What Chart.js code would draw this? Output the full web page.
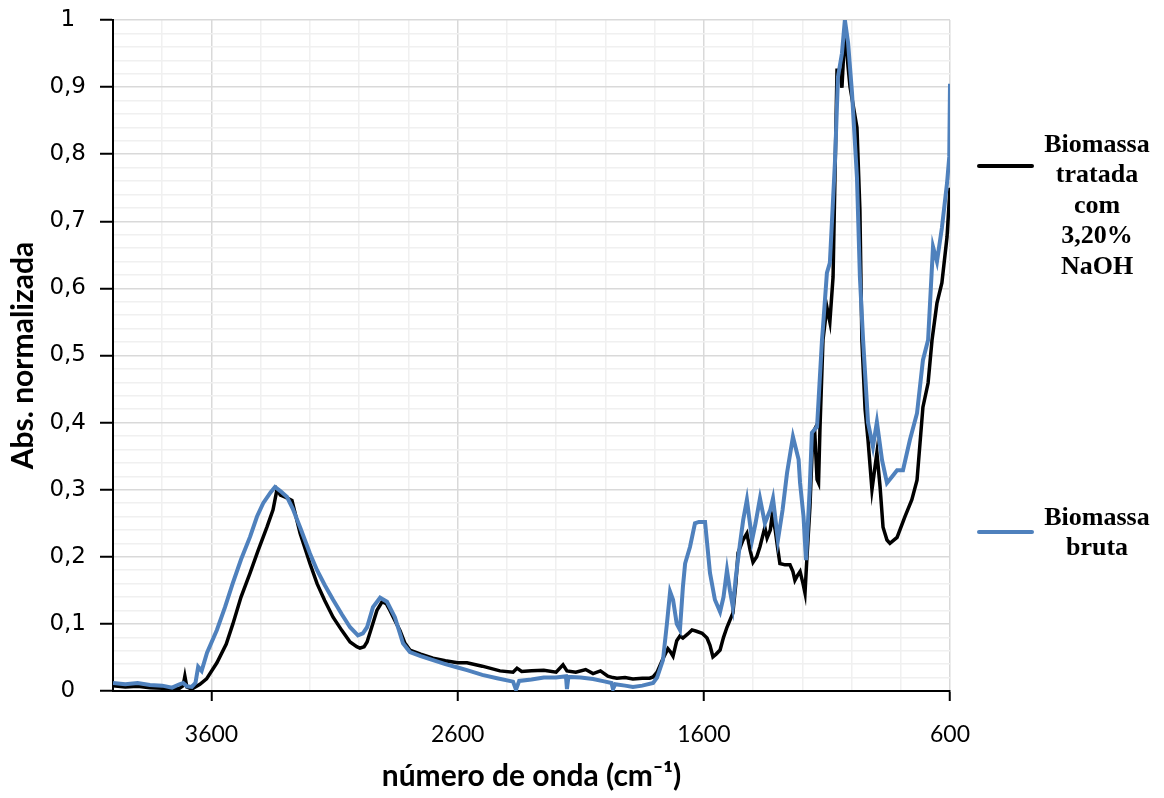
<!DOCTYPE html>
<html>
<head>
<meta charset="utf-8">
<script src="https://cdn.jsdelivr.net/npm/chart.js@4.4.1/dist/chart.umd.min.js"></script>
<style>
  html, body { margin: 0; padding: 0; background: #fff; }
  #wrap { width: 1164px; height: 798px; }
</style>
</head>
<body>
<div id="wrap"><canvas id="espectro"></canvas></div>
<script>
// Espectros FTIR normalizados (número de onda em cm-1, absorbância normalizada)
const tratadaX = [4000, 3950, 3900, 3850, 3800, 3760, 3730, 3715, 3708, 3700, 3680, 3647, 3620, 3578, 3540, 3513,
  3480, 3443, 3410, 3374, 3350, 3334, 3320, 3300, 3273, 3240, 3200, 3171, 3140, 3106, 3070, 3037, 3010, 2997,
  2980, 2968, 2945, 2928, 2907, 2890, 2875, 2855, 2834, 2815, 2794, 2750, 2700, 2650, 2600, 2562, 2500, 2428,
  2375, 2359, 2340, 2300, 2250, 2200, 2172, 2156, 2120, 2080, 2050, 2020, 1990, 1969, 1953, 1920, 1888, 1850,
  1820, 1806, 1790, 1766, 1746, 1735, 1725, 1710, 1697, 1685, 1665, 1648, 1630, 1607, 1587, 1575, 1563, 1550,
  1534, 1520, 1506, 1482, 1470, 1461, 1441, 1425, 1412, 1400, 1385, 1372, 1352, 1343, 1330, 1323, 1310, 1299,
  1291, 1270, 1250, 1238, 1230, 1220, 1209, 1197, 1189, 1181, 1169, 1157, 1150, 1140, 1134, 1128, 1116, 1100,
  1088, 1075, 1059, 1047, 1039, 1027, 1014, 1006, 978, 966, 958, 945, 933, 917, 897, 884, 872, 856, 844, 815,
  783, 755, 734, 710, 689, 673, 653, 633, 612, 600];
const tratadaY = [0.008, 0.006, 0.007, 0.005, 0.004, 0.003, 0.004, 0.008, 0.022, 0.006, 0.003, 0.010, 0.018, 0.042, 0.070, 0.100,
  0.140, 0.176, 0.210, 0.245, 0.270, 0.300, 0.292, 0.289, 0.284, 0.235, 0.190, 0.160, 0.135, 0.110, 0.090, 0.073, 0.066, 0.064,
  0.066, 0.073, 0.100, 0.120, 0.133, 0.130, 0.120, 0.105, 0.090, 0.072, 0.061, 0.055, 0.049, 0.045, 0.042, 0.042, 0.037, 0.030,
  0.028, 0.034, 0.029, 0.030, 0.031, 0.028, 0.039, 0.030, 0.028, 0.032, 0.026, 0.030, 0.022, 0.020, 0.019, 0.020, 0.018, 0.019,
  0.019, 0.021, 0.028, 0.048, 0.063, 0.058, 0.052, 0.075, 0.082, 0.079, 0.085, 0.091, 0.089, 0.086, 0.079, 0.068, 0.051, 0.055,
  0.061, 0.080, 0.095, 0.116, 0.160, 0.206, 0.225, 0.235, 0.210, 0.192, 0.200, 0.215, 0.244, 0.228, 0.240, 0.260, 0.240, 0.210,
  0.190, 0.188, 0.188, 0.178, 0.165, 0.172, 0.178, 0.160, 0.146, 0.200, 0.274, 0.385, 0.390, 0.315, 0.310, 0.394, 0.523, 0.572,
  0.550, 0.617, 0.925, 0.925, 0.899, 0.985, 0.930, 0.900, 0.840, 0.717, 0.523, 0.420, 0.374, 0.300, 0.355, 0.304, 0.244, 0.225, 0.220, 0.229,
  0.260, 0.285, 0.314, 0.423, 0.459, 0.523, 0.578, 0.608, 0.677, 0.750];

const brutaX = [4000, 3950, 3900, 3850, 3800, 3760, 3730, 3715, 3700, 3680, 3665, 3654, 3640, 3618, 3578, 3545, 3513,
  3480, 3443, 3415, 3390, 3360, 3342, 3320, 3293, 3270, 3240, 3200, 3171, 3140, 3106, 3070, 3037, 3005, 2985,
  2968, 2944, 2915, 2887, 2855, 2822, 2794, 2750, 2700, 2650, 2600, 2562, 2500, 2440, 2375, 2363, 2350, 2300,
  2250, 2200, 2160, 2156, 2150, 2100, 2050, 2000, 1975, 1969, 1960, 1920, 1888, 1850, 1806, 1790, 1766, 1750,
  1737, 1725, 1710, 1697, 1685, 1676, 1656, 1636, 1620, 1595, 1575, 1555, 1534, 1520, 1506, 1494, 1482, 1470,
  1453, 1440, 1425, 1404, 1390, 1372, 1352, 1330, 1319, 1299, 1280, 1262, 1238, 1215, 1209, 1195, 1185, 1170,
  1161, 1140, 1120, 1116, 1100, 1088, 1067, 1055, 1039, 1027, 1014, 998, 978, 966, 953, 933, 913, 897, 876,
  856, 830, 815, 791, 763, 734, 710, 689, 669, 653, 633, 612, 603, 600];
const brutaY = [0.012, 0.010, 0.012, 0.009, 0.008, 0.005, 0.010, 0.012, 0.007, 0.006, 0.012, 0.036, 0.030, 0.057, 0.091, 0.125, 0.161,
  0.196, 0.230, 0.260, 0.280, 0.296, 0.304, 0.298, 0.289, 0.272, 0.244, 0.205, 0.180, 0.158, 0.136, 0.114, 0.095, 0.083, 0.086,
  0.095, 0.125, 0.139, 0.133, 0.110, 0.071, 0.058, 0.052, 0.046, 0.040, 0.035, 0.031, 0.024, 0.019, 0.014, 0.002, 0.015, 0.017,
  0.020, 0.020, 0.022, 0.003, 0.021, 0.020, 0.018, 0.014, 0.012, 0.003, 0.010, 0.008, 0.006, 0.008, 0.012, 0.020, 0.046, 0.100,
  0.148, 0.136, 0.100, 0.091, 0.155, 0.190, 0.215, 0.250, 0.252, 0.252, 0.176, 0.136, 0.118, 0.140, 0.180, 0.150, 0.125, 0.170,
  0.220, 0.255, 0.285, 0.225, 0.250, 0.287, 0.250, 0.270, 0.287, 0.225, 0.270, 0.325, 0.379, 0.345, 0.310, 0.260, 0.195, 0.300,
  0.385, 0.394, 0.523, 0.542, 0.623, 0.638, 0.791, 0.915, 0.950, 1.000, 0.966, 0.891, 0.766, 0.617, 0.523, 0.400, 0.364, 0.401, 0.344,
  0.310, 0.322, 0.329, 0.329, 0.374, 0.414, 0.493, 0.523, 0.662, 0.640, 0.690, 0.757, 0.796, 0.905];

const xTickLabels = [3600, 2600, 1600, 600];
const yTickLabels = [0, 0.1, 0.2, 0.3, 0.4, 0.5, 0.6, 0.7, 0.8, 0.9, 1];

const legendaTratada = ["Biomassa", "tratada", "com", "3,20%", "NaOH"];
const legendaBruta = ["Biomassa", "bruta"];

const pontos = (xs, ys) => xs.map((x, i) => ({ x: x, y: ys[i] }));

const isMajorX = (v) => xTickLabels.includes(v);
const isMajorY = (v) => yTickLabels.some((t) => Math.abs(t - v) < 1e-6);

// legenda desenhada à direita da área do gráfico, com texto em várias linhas
const legendaLateral = {
  id: "legendaLateral",
  afterDraw(chart) {
    const ctx = chart.ctx;
    const area = chart.chartArea;
    const itens = [
      { linhas: legendaTratada, cor: "#000000", amostra: 146, texto: 125 },
      { linhas: legendaBruta, cor: "#4F81BD", amostra: 512, texto: 498 },
    ];
    ctx.save();
    ctx.font = "bold 26px 'Liberation Serif'";
    ctx.textAlign = "center";
    ctx.textBaseline = "middle";
    ctx.fillStyle = "#000";
    itens.forEach((it) => {
      const y = area.top + it.amostra;
      ctx.beginPath();
      ctx.strokeStyle = it.cor;
      ctx.lineWidth = 4;
      ctx.lineCap = "round";
      ctx.moveTo(area.right + 29, y);
      ctx.lineTo(area.right + 82, y);
      ctx.stroke();
      it.linhas.forEach((t, k) => {
        ctx.fillText(t, area.right + 147, area.top + it.texto + k * 30.5);
      });
    });
    ctx.restore();
  },
};

new Chart(document.getElementById("espectro"), {
  type: "line",
  data: {
    datasets: [
      {
        label: "Biomassa tratada com 3,20% NaOH",
        data: pontos(tratadaX, tratadaY),
        borderColor: "#000000",
        borderWidth: 3.5,
        pointRadius: 0,
        tension: 0,
        order: 2,
      },
      {
        label: "Biomassa bruta",
        data: pontos(brutaX, brutaY),
        borderColor: "#4F81BD",
        borderWidth: 4,
        pointRadius: 0,
        tension: 0,
        order: 1,
      },
    ],
  },
  options: {
    responsive: true,
    maintainAspectRatio: false,
    animation: false,
    layout: { padding: { top: 20, right: 214, left: 0, bottom: 0 } },
    plugins: { legend: { display: false }, tooltip: { enabled: false } },
    scales: {
      x: {
        type: "linear",
        reverse: true,
        min: 600,
        max: 4000,
        afterFit(scale) { scale.height = 107; },
        ticks: {
          stepSize: 200,
          autoSkip: false,
          maxRotation: 0,
          padding: 20,
          color: "#000",
          font: { family: "Lato", size: 23 },
          callback: (v) => (isMajorX(v) ? String(v) : ""),
        },
        grid: {
          color: (c) => (isMajorX(c.tick.value) ? "#d9d9d9" : "#f0f0f0"),
          lineWidth: 1.5,
          tickLength: 10,
          tickColor: (c) => (isMajorX(c.tick.value) ? "#000" : "rgba(0,0,0,0)"),
          tickWidth: 2,
        },
        border: { color: "#000", width: 2 },
        title: {
          display: true,
          text: "número de onda (cm⁻¹)",
          color: "#000",
          font: { family: "Lato", size: 30, weight: "bold" },
          padding: { bottom: 4 },
        },
      },
      y: {
        min: 0,
        max: 1,
        afterFit(scale) {
          scale.width = 113;
          scale.paddingTop = 0;
          scale.paddingBottom = 0;
        },
        ticks: {
          stepSize: 0.02,
          autoSkip: false,
          crossAlign: "center",
          padding: 14,
          color: "#000",
          font: { family: "DejaVu Sans", size: 23 },
          callback: (v) => (isMajorY(v) ? String(Math.round(v * 10) / 10).replace(".", ",") : ""),
        },
        grid: {
          color: (c) => (isMajorY(c.tick.value) ? "#d9d9d9" : "#f0f0f0"),
          lineWidth: 1.5,
          tickLength: 13,
          tickColor: (c) => (isMajorY(c.tick.value) ? "#000" : "rgba(0,0,0,0)"),
          tickWidth: 2,
        },
        border: { color: "#000", width: 2 },
        title: {
          display: true,
          text: "Abs. normalizada",
          color: "#000",
          font: { family: "Lato", size: 30, weight: "bold" },
          padding: { top: 5 },
        },
      },
    },
  },
  plugins: [legendaLateral],
});
</script>
</body>
</html>
